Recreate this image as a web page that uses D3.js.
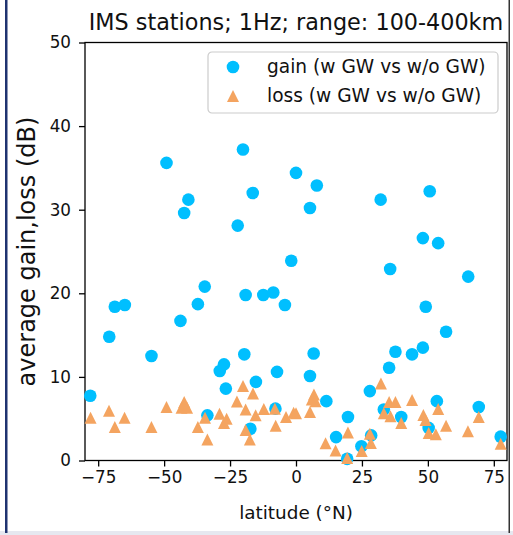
<!DOCTYPE html>
<html>
<head>
<meta charset="utf-8">
<script src="https://cdn.jsdelivr.net/npm/d3@7"></script>
<style>
  body { margin: 0; background: #fff; }
  text { font-family: "DejaVu Sans", sans-serif; }
</style>
</head>
<body>
<div id="chart"></div>
<script>
// data
var gainLat = [-78, -70.8, -68.7, -64.9, -54.8, -49.1, -43.8, -42.4, -40.8, -37.2,
  -34.6, -33.6, -28.9, -27.3, -26.6, -22.1, -20.1, -19.1, -19.6, -17.3,
  -16.4, -15.2, -12.4, -8.6, -7.8, -7.2, -4.2, -1.8, 0, 5.3,
  5.3, 6.7, 7.9, 11.5, 15.2, 19.4, 19.7, 24.8, 28.0, 28.5,
  32.1, 33.3, 35.3, 35.7, 37.7, 39.9, 44.0, 48.1, 48.1, 49.2,
  50.3, 50.7, 53.4, 53.9, 56.9, 65.3, 69.3, 77.6];
var gainVal = [7.75, 14.8, 18.4, 18.6, 12.5, 35.6, 16.7, 29.6, 31.2, 18.7,
  20.8, 5.4, 10.7, 11.5, 8.6, 28.1, 37.2, 19.8, 12.7, 3.8,
  32.0, 9.4, 19.8, 20.1, 6.2, 10.6, 18.6, 23.9, 34.4, 30.2,
  10.1, 12.8, 32.9, 7.1, 2.8, 0.2, 5.2, 1.7, 8.3, 3.0,
  31.2, 6.1, 11.1, 22.9, 13.0, 5.2, 12.7, 26.6, 13.5, 18.4,
  3.9, 32.2, 7.1, 26.0, 15.4, 22.0, 6.4, 2.85];

var lossLat = [-77.9, -70.9, -68.7, -65.0, -54.8, -49.1, -43.4, -42.4, -41.3, -37.2,
  -34.5, -33.6, -29.0, -27.3, -26.3, -22.4, -20.1, -19.1, -19.1, -17.5,
  -16.3, -15.3, -12.2, -8.0, -7.7, -3.8, -0.9, 0.0, 5.3, 6.0,
  6.8, 7.4, 11.2, 15.0, 19.4, 19.7, 24.9, 28.0, 28.4, 32.2,
  33.3, 35.3, 35.8, 37.7, 39.9, 44.0, 48.3, 49.1, 50.3, 53.0,
  53.9, 56.9, 65.2, 69.3, 77.6];
var lossVal = [5.1, 5.95, 4.0, 5.1, 4.0, 6.4, 6.3, 7.0, 6.3, 4.0,
  5.1, 2.5, 5.6, 4.5, 5.0, 7.05, 8.9, 6.1, 3.65, 2.5,
  8.0, 5.4, 6.15, 6.2, 4.15, 5.2, 5.7, 5.65, 5.8, 7.3,
  7.9, 7.1, 2.05, 1.2, 0.3, 3.35, 1.15, 3.2, 2.1, 9.2,
  5.65, 7.0, 5.3, 7.0, 4.5, 7.25, 5.45, 4.85, 3.3, 3.15,
  6.15, 4.15, 3.5, 5.2, 2.0];

var xTicks = [-75, -50, -25, 0, 25, 50, 75];
var yTicks = [0, 10, 20, 30, 40, 50];
var seriesNames = ["gain (w GW vs w/o GW)", "loss (w GW vs w/o GW)"];

var gain = gainLat.map(function (d, i) { return {lat: d, val: gainVal[i]}; });
var loss = lossLat.map(function (d, i) { return {lat: d, val: lossVal[i]}; });

var blue = "#00bfff", orange = "#f4a460";

var margin = {top: 42.5, right: 6, bottom: 74.5, left: 85},
  width = 513 - margin.left - margin.right,
  height = 535 - margin.top - margin.bottom;

var root = d3.select("#chart")
  .append("svg")
  .attr("width", 513)
  .attr("height", 535);

// page frame bits
root.append("rect").attr("x", 0).attr("y", 531).attr("width", 513).attr("height", 4).attr("fill", "#e6e8f0");
root.append("rect").attr("x", 5).attr("y", 0).attr("width", 2.5).attr("height", 533).attr("fill", "#1f3370");
root.append("rect").attr("x", 508.5).attr("y", 0).attr("width", 1.5).attr("height", 533).attr("fill", "#333");

var svg = root.append("g")
  .attr("transform", "translate(" + margin.left + "," + margin.top + ")");

var x = d3.scaleLinear().domain([-80, 80]).range([0, width]);
var y = d3.scaleLinear().domain([0, 50]).range([height, 0]);

var minus = function (d) { return String(d).replace("-", "\u2212"); };

// Add X axis
var xAxis = svg.append("g")
  .attr("transform", "translate(0," + height + ")")
  .call(d3.axisBottom(x).tickValues(xTicks).tickFormat(minus).tickSize(6).tickPadding(5).tickSizeOuter(0));

// Add Y axis
var yAxis = svg.append("g")
  .call(d3.axisLeft(y).tickValues(yTicks).tickSize(6).tickPadding(8).tickSizeOuter(0));

[xAxis, yAxis].forEach(function (a) {
  a.selectAll("text").attr("font-size", "16.8px").attr("font-family", "DejaVu Sans").attr("fill", "#111");
  a.selectAll("line").attr("stroke", "#000").attr("stroke-width", 1.3);
  a.select(".domain").remove();
});

// frame
svg.append("rect")
  .attr("width", width)
  .attr("height", height)
  .attr("fill", "none")
  .attr("stroke", "#000")
  .attr("stroke-width", 1.3);

// Add dots
svg.append("g")
  .selectAll("circle")
  .data(gain)
  .enter()
  .append("circle")
  .attr("cx", function (d) { return x(d.lat); })
  .attr("cy", function (d) { return y(d.val); })
  .attr("r", 6.3)
  .attr("fill", blue);

var tri = "M0,-6 L6,6 L-6,6 Z";
svg.append("g")
  .selectAll("path")
  .data(loss)
  .enter()
  .append("path")
  .attr("d", tri)
  .attr("transform", function (d) { return "translate(" + x(d.lat) + "," + y(d.val) + ")"; })
  .attr("fill", orange);

// legend
var leg = svg.append("g").attr("transform", "translate(" + (208 - margin.left) + "," + (52 - margin.top) + ")");
leg.append("rect")
  .attr("width", 290).attr("height", 61).attr("rx", 4)
  .attr("fill", "#fff").attr("fill-opacity", 0.8)
  .attr("stroke", "#ccc").attr("stroke-width", 1.2);
leg.append("circle").attr("cx", 25).attr("cy", 15).attr("r", 6.3).attr("fill", blue);
leg.append("path").attr("d", tri).attr("transform", "translate(25,44)").attr("fill", orange);
leg.selectAll("text.lab")
  .data(seriesNames)
  .enter()
  .append("text")
  .attr("class", "lab")
  .attr("x", 59)
  .attr("y", function (d, i) { return 21 + i * 29; })
  .attr("font-size", "18.6px")
  .attr("fill", "#111")
  .text(function (d) { return d; });

// title and labels
svg.append("text")
  .attr("text-anchor", "middle")
  .attr("x", width / 2)
  .attr("y", 30 - margin.top)
  .attr("font-size", "22.3px")
  .attr("fill", "#111")
  .text("IMS stations; 1Hz; range: 100-400km");

svg.append("text")
  .attr("text-anchor", "middle")
  .attr("x", width / 2)
  .attr("y", 519 - margin.top)
  .attr("font-size", "18.4px")
  .attr("fill", "#111")
  .text("latitude (\u00b0N)");

svg.append("text")
  .attr("text-anchor", "middle")
  .attr("transform", "translate(" + (35 - margin.left) + "," + (height / 2) + ") rotate(-90)")
  .attr("font-size", "24px")
  .attr("fill", "#111")
  .text("average gain,loss (dB)");
</script>
</body>
</html>
